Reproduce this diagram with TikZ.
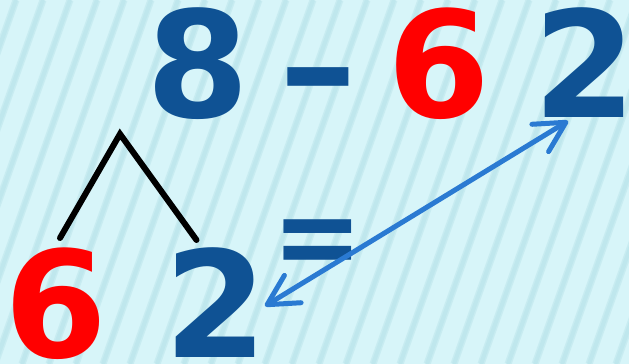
\documentclass[tikz,border=0pt]{standalone}
\usepackage{fontspec}
\setmainfont{DejaVu Sans}
\definecolor{nbBlue}{HTML}{0F5294}
\definecolor{nbRed}{HTML}{FF0000}
\definecolor{nbSky}{HTML}{D7F5F9}
\definecolor{nbStripe}{HTML}{BFE7ED}
\definecolor{nbArrow}{HTML}{2A7AD2}
\usetikzlibrary{arrows.meta}
\newcommand{\bigdigits}{\fontsize{148pt}{148pt}\selectfont\bfseries}

\begin{document}
\begin{tikzpicture}[
  x=1pt,y=-1pt,
  num/.style={font=\bigdigits,text=nbBlue,inner sep=0pt,anchor=base},
  numred/.style={num,text=nbRed},
  fork/.style={draw=black,line width=6pt},
  link/.style={draw=nbArrow,line width=5pt,
    {Straight Barb[length=30pt,width=32pt,round]}-{Straight Barb[length=30pt,width=32pt,round]}}
]
% background with slanted stripes
\fill[nbSky] (0,0) rectangle (629,364);
\begin{scope}
  \clip (0,0) rectangle (629,364);
  \foreach \s in {-140,-113,...,640}
    \draw[nbStripe,line width=7pt,opacity=.6] (\s,364) -- ++(129,-364);
  \foreach \s in {-140,-113,...,640}
    \draw[nbStripe,line width=4pt] (\s,364) -- ++(129,-364);
\end{scope}
\useasboundingbox (0,0) rectangle (629,364);

% top row
\node[num]    (top8) at (198,117) {8};
\node[num,xscale=1.05] (minus) at (318,117) {–};
\node[numred] (top6) at (438.5,117) {6};
\node[num]    (top2) at (584.5,117) {2};

% equals sign
\node[num,xscale=.73,yscale=.81] (equal) at (318,277) {=};

% bottom row
\node[numred] (bot6) at (56,357) {6};
\node[num]    (bot2) at (216,357) {2};

% split of the 8
\coordinate (apex) at (120,134);
\coordinate (legL) at (60,238);
\coordinate (legR) at (196.5,240);
\draw[fork,line cap=round] (legL) -- (apex) -- (legR);

% the two 2s
\coordinate (tipLow) at (265,306);
\coordinate (tipHigh) at (568,121);
\draw[link] (tipLow) -- (tipHigh);
\end{tikzpicture}
\end{document}
